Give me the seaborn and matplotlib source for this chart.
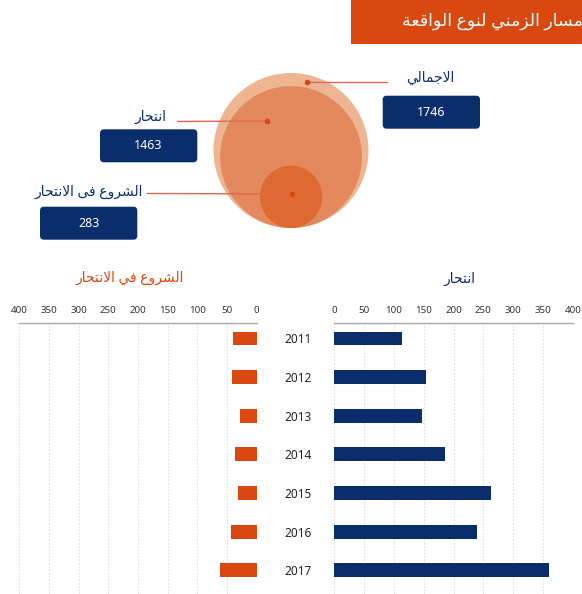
import numpy as np
import pandas as pd
import seaborn as sns
import matplotlib.pyplot as plt
from matplotlib.patches import Circle, Rectangle, FancyBboxPatch

# --------------------------
# Data
# --------------------------
years = ["2011", "2012", "2013", "2014", "2015", "2016", "2017"]
suicide = [113, 154, 147, 186, 263, 240, 360]
attempts = [40, 42, 28, 37, 31, 43, 62]

circle_labels = ["الاجمالي", "انتحار", "الشروع فى الانتحار"]
circle_values = [1746, 1463, 283]

title = "مسار الزمني لنوع الواقعة"
title_right = "انتحار"
title_left = "الشروع في الانتحار"
ticks = list(range(0, 401, 50))

# --------------------------
# Colours
# --------------------------
navy = "#0c2d6b"
orange = "#d9480f"
circle_colors = ["#eeb593", "#e4895d", "#df6a31"]
line_color = "#e2674f"

# --------------------------
# Arabic shaping (matplotlib has no bidi / joining)
# --------------------------
FORMS = {
    "ا": ("\uFE8D", "\uFE8E", None, None),
    "ة": ("\uFE93", "\uFE94", None, None),
    "ت": ("\uFE95", "\uFE96", "\uFE97", "\uFE98"),
    "ج": ("\uFE9D", "\uFE9E", "\uFE9F", "\uFEA0"),
    "ح": ("\uFEA1", "\uFEA2", "\uFEA3", "\uFEA4"),
    "ر": ("\uFEAD", "\uFEAE", None, None),
    "ز": ("\uFEAF", "\uFEB0", None, None),
    "س": ("\uFEB1", "\uFEB2", "\uFEB3", "\uFEB4"),
    "ش": ("\uFEB5", "\uFEB6", "\uFEB7", "\uFEB8"),
    "ع": ("\uFEC9", "\uFECA", "\uFECB", "\uFECC"),
    "ف": ("\uFED1", "\uFED2", "\uFED3", "\uFED4"),
    "ق": ("\uFED5", "\uFED6", "\uFED7", "\uFED8"),
    "ل": ("\uFEDD", "\uFEDE", "\uFEDF", "\uFEE0"),
    "م": ("\uFEE1", "\uFEE2", "\uFEE3", "\uFEE4"),
    "ن": ("\uFEE5", "\uFEE6", "\uFEE7", "\uFEE8"),
    "و": ("\uFEED", "\uFEEE", None, None),
    "ى": ("\uFEEF", "\uFEF0", None, None),
    "ي": ("\uFEF1", "\uFEF2", "\uFEF3", "\uFEF4"),
    "لا": ("\uFEFB", "\uFEFC", None, None),
}


def ar(text):
    tokens = []
    i = 0
    while i < len(text):
        if text[i] == "ل" and i + 1 < len(text) and text[i + 1] == "ا":
            tokens.append("لا")
            i += 2
        else:
            tokens.append(text[i])
            i += 1
    out = []
    for k, t in enumerate(tokens):
        if t not in FORMS:
            out.append(t)
            continue
        iso, fin, ini, med = FORMS[t]
        prev = tokens[k - 1] if k > 0 else None
        nxt = tokens[k + 1] if k + 1 < len(tokens) else None
        jp = prev in FORMS and FORMS[prev][2] is not None
        jn = nxt in FORMS and ini is not None
        if jp and jn:
            out.append(med)
        elif jp:
            out.append(fin)
        elif jn:
            out.append(ini)
        else:
            out.append(iso)
    return "".join(reversed(out))


sns.set_style("white")
plt.rcParams["font.family"] = ["Noto Sans", "DejaVu Sans"]

fig = plt.figure(figsize=(5.82, 5.94), dpi=100)
W, H = 582, 594

df = pd.DataFrame({"year": years, "suicide": suicide, "attempt": attempts})

# --------------------------
# Bar charts
# --------------------------
ax_r = fig.add_axes([334 / W, 0, 239 / W, 271 / H])
ax_l = fig.add_axes([19.3 / W, 0, 237.4 / W, 271 / H])

sns.barplot(data=df, x="suicide", y="year", color=navy, width=0.36,
            saturation=1, linewidth=0, ax=ax_r)
sns.barplot(data=df, x="attempt", y="year", color=orange, width=0.36,
            saturation=1, linewidth=0, ax=ax_l)

for ax in (ax_r, ax_l):
    ax.set_xticks(ticks)
    ax.set_ylim(6.61, -0.40)
    ax.set_xlabel("")
    ax.set_ylabel("")
    ax.xaxis.tick_top()
    ax.tick_params(axis="x", length=0, labelsize=7, pad=6, colors="#333333")
    ax.grid(axis="x", color="#d9d9d9", linestyle=(0, (2, 2)), linewidth=0.6)
    ax.set_axisbelow(True)
    for s in ("left", "right", "bottom"):
        ax.spines[s].set_visible(False)
    ax.spines["top"].set_color("#aaaaaa")
    ax.spines["top"].set_linewidth(1)

ax_r.set_xlim(0, 400)
ax_l.set_xlim(400, 0)
ax_r.tick_params(axis="y", length=0, labelsize=8.5, pad=16, colors="#222222")
ax_l.tick_params(axis="y", length=0, labelleft=False)

# --------------------------
# Overlay in pixel coords: banner, bubbles, labels
# --------------------------
ov = fig.add_axes([0, 0, 1, 1])
ov.set_xlim(0, W)
ov.set_ylim(H, 0)
ov.axis("off")

ov.add_patch(Rectangle((351, 0), 231, 44, color=orange, lw=0))
ov.text(583, 21, ar(title), color="white", fontsize=12.5,
        ha="right", va="center")

ov.text(460, 279, ar(title_right), color=navy, fontsize=10,
        ha="center", va="center")
ov.text(130, 278, ar(title_left), color=orange, fontsize=10,
        ha="center", va="center")

# nested bubbles, area proportional, bottom aligned
R = 77.5
cx, base = 291, 228
for val, col in zip(circle_values, circle_colors):
    r = R * np.sqrt(val / circle_values[0])
    ov.add_patch(Circle((cx, base - r), r, color=col, lw=0))

# leader lines + dots
leaders = [((306.7, 81.7), (386.7, 81.7)),
           ((267.3, 121.0), (177.7, 121.5)),
           ((292.3, 194.0), (147.3, 193.5))]
for (dx, dy), (ex, ey) in leaders:
    ov.plot([dx, ex], [dy, ey], color=line_color, lw=1)
    ov.plot(dx, dy, "o", color=orange, ms=3)

label_pos = [(430, 78, "center"), (166.7, 117, "right"), (143.3, 192, "right")]
box_pos = [(382.7, 95.7), (100, 129.3), (40, 206.7)]
for lab, val, (lx, ly, ha), (bx, by) in zip(circle_labels, circle_values,
                                            label_pos, box_pos):
    ov.text(lx, ly, ar(lab), color=navy, fontsize=10, ha=ha, va="center")
    ov.add_patch(FancyBboxPatch((bx, by), 97.3, 33,
                                boxstyle="round,pad=0,rounding_size=4",
                                color=navy, lw=0))
    ov.text(bx + 48.6, by + 16.5, str(val), color="white", fontsize=9,
            ha="center", va="center")

plt.savefig("out.png", dpi=100)
